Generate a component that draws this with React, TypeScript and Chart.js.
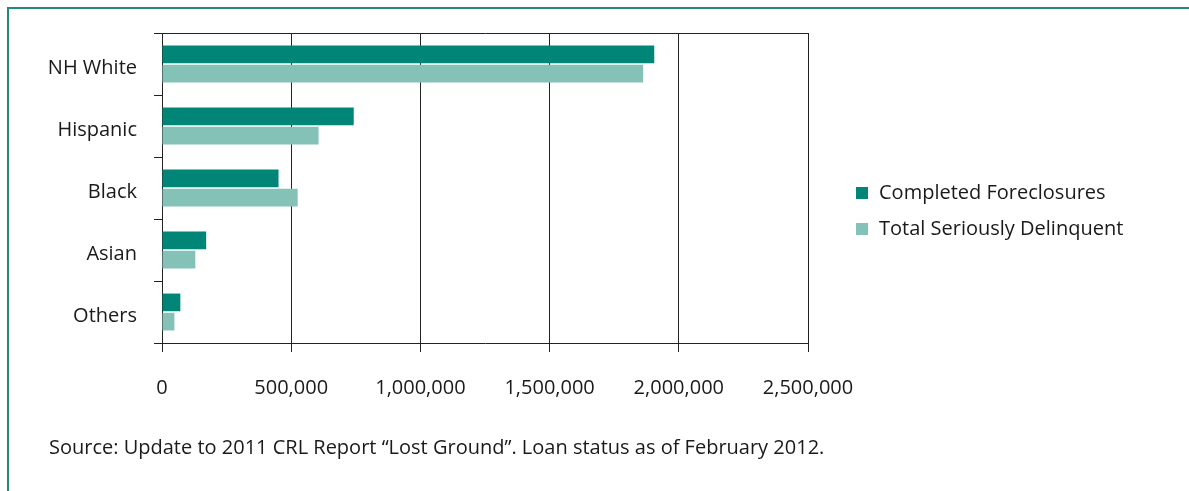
import React, { useEffect, useRef } from "react";
import { Chart, registerables } from "chart.js";

Chart.register(...registerables);

const categories = ["NH White", "Hispanic", "Black", "Asian", "Others"];
const completedForeclosures = [1905000, 742000, 451000, 171000, 71000];
const totalSeriouslyDelinquent = [1862000, 606000, 525000, 129000, 48000];
const xTickValues = [0, 500000, 1000000, 1500000, 2000000, 2500000];
const seriesNames = ["Completed Foreclosures", "Total Seriously Delinquent"];
const seriesColors = ["#008576", "#84c2b8"];
const sourceNote =
  "Source: Update to 2011 CRL Report \u201CLost Ground\u201D. Loan status as of February 2012.";

const FONT = "'Open Sans', 'Noto Sans', sans-serif";
const TEXT = "#1a1a1a";
const LINE = "#222222";

export default function App() {
  const ref = useRef<HTMLCanvasElement | null>(null);

  useEffect(() => {
    if (!ref.current) return;
    const chart = new Chart(ref.current, {
      type: "bar",
      data: {
        labels: categories,
        datasets: [
          {
            label: seriesNames[0],
            data: completedForeclosures,
            backgroundColor: seriesColors[0],
            borderWidth: 0,
            categoryPercentage: 0.62,
            barPercentage: 0.92,
          },
          {
            label: seriesNames[1],
            data: totalSeriouslyDelinquent,
            backgroundColor: seriesColors[1],
            borderWidth: 0,
            categoryPercentage: 0.62,
            barPercentage: 0.92,
          },
        ],
      },
      options: {
        indexAxis: "y",
        responsive: false,
        animation: false,
        layout: { padding: { top: 33, left: 0, right: 381, bottom: 0 } },
        plugins: {
          legend: { display: false },
          tooltip: { enabled: false },
        },
        scales: {
          x: {
            min: 0,
            max: 2500000,
            afterBuildTicks: (s: any) => {
              s.ticks = xTickValues.map((v) => ({ value: v }));
            },
            afterFit: (s: any) => {
              s.height = 77;
            },
            grid: {
              color: LINE,
              lineWidth: 1,
              tickLength: 9,
              tickColor: LINE,
            },
            border: { color: LINE, width: 1 },
            ticks: {
              color: TEXT,
              font: { family: FONT, size: 20 },
              padding: 24,
              maxRotation: 0,
              autoSkip: false,
              callback: (v: any) => Number(v).toLocaleString("en-US"),
            },
          },
          y: {
            afterFit: (s: any) => {
              s.width = 162;
            },
            grid: {
              offset: true,
              color: (ctx: any) => (ctx.index === 0 ? LINE : "rgba(0,0,0,0)"),
              tickColor: LINE,
              tickLength: 8,
              lineWidth: 1,
            },
            border: { color: LINE, width: 1 },
            ticks: {
              color: TEXT,
              font: { family: FONT, size: 20 },
              padding: 17,
              labelOffset: 4,
            },
          },
        },
      },
    });
    return () => chart.destroy();
  }, []);

  const textStyle: React.CSSProperties = {
    position: "absolute",
    fontFamily: FONT,
    fontSize: 20,
    lineHeight: "20px",
    color: TEXT,
    whiteSpace: "nowrap",
  };

  return (
    <div
      style={{
        position: "fixed",
        left: 0,
        top: 0,
        width: 1189,
        height: 491,
        overflow: "hidden",
        background: "#ffffff",
      }}
    >
      <canvas
        ref={ref}
        width={1189}
        height={420}
        style={{ position: "absolute", left: 0, top: 0, width: 1189, height: 420 }}
      />
      <div
        style={{
          position: "absolute",
          left: 7,
          top: 7,
          width: 1300,
          height: 600,
          borderTop: "2px solid #23897b",
          borderLeft: "2px solid #23897b",
          pointerEvents: "none",
        }}
      />
      {seriesNames.map((name, i) => (
        <div key={name} style={{ ...textStyle, left: 856, top: 182 + i * 36 }}>
          <span
            style={{
              position: "absolute",
              left: 0,
              top: 5,
              width: 12,
              height: 12,
              background: seriesColors[i],
            }}
          />
          <span style={{ position: "absolute", left: 23, top: 0 }}>{name}</span>
        </div>
      ))}
      <div style={{ ...textStyle, left: 49, top: 437 }}>{sourceNote}</div>
    </div>
  );
}
